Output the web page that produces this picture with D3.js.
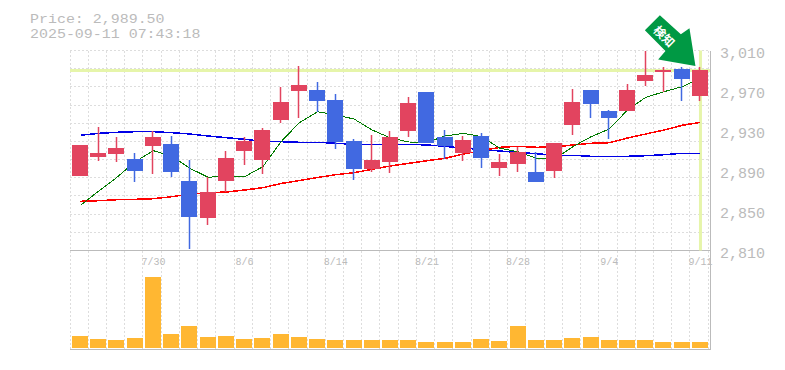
<!DOCTYPE html>
<html>
<head>
<meta charset="utf-8">
<script src="https://cdn.jsdelivr.net/npm/d3@7"></script>
<style>
html, body { margin: 0; padding: 0; background: #fff; }
svg { display: block; }
text { font-family: "Liberation Mono", monospace; fill: #bbb; }
.domain { display: none; }
</style>
</head>
<body>
<div id="chart"></div>
<script>
const dates = ['7/24','7/25','7/28','7/29','7/30','7/31','8/1','8/4','8/5','8/6','8/7','8/8','8/12','8/13','8/14','8/15','8/18','8/19','8/20','8/21','8/22','8/25','8/26','8/27','8/28','8/29','9/1','9/2','9/3','9/4','9/5','9/8','9/9','9/10','9/11']
const dateTicks = ['7/30','8/6','8/14','8/21','8/28','9/4','9/11']
const priceTicks = [3010, 2970, 2930, 2890, 2850, 2810]

const opens = [2884.5,2903.5,2906.5,2901.5,2914.5,2916.5,2879.5,2842.5,2879.5,2909.5,2900.5,2940.5,2969.5,2970.5,2960.5,2919.5,2891.5,2898.5,2929.5,2968.5,2923.5,2907.5,2924.5,2892.5,2896.5,2888.5,2889.5,2935.5,2970.5,2949.5,2949.5,2979.5,2988.5,2991.5,2964.5]
const closes = [2915.5,2907.5,2912.5,2889.5,2923.5,2888.5,2843.5,2868.5,2902.5,2919.5,2930.5,2958.5,2975.5,2959.5,2918.5,2891.5,2900.5,2923.5,2957.5,2917.5,2914.5,2920.5,2902.5,2898.5,2908.5,2878.5,2917.5,2958.5,2956.5,2942.5,2970.5,2985.5,2990.5,2981.5,2990.5]
const highs = [2915.5,2933.5,2923.5,2907.5,2929.5,2924.5,2900.5,2883.5,2909.5,2923.5,2932.5,2973.5,2994.5,2978.5,2966.5,2921.5,2925.5,2929.5,2963.5,2968.5,2930.5,2924.5,2927.5,2906.5,2913.5,2908.5,2917.5,2971.5,2970.5,2950.5,2976.5,3009.5,2993.5,2993.5,2993.5]
const lows = [2884.5,2899.5,2898.5,2878.5,2886.5,2883.5,2811.5,2835.5,2868.5,2895.5,2886.5,2937.5,2942.5,2948.5,2911.5,2880.5,2888.5,2887.5,2923.5,2917.5,2901.5,2899.5,2892.5,2884.5,2888.5,2878.5,2882.5,2925.5,2942.5,2921.5,2949.5,2974.5,2968.5,2959.5,2959.5]

const maShort = [2855.2,2869.5,2883.2,2898.8,2909.8,2904.5,2892.2,2883.2,2884.5,2883.8,2893.8,2918.8,2937.8,2948.8,2945.5,2941.5,2930.5,2922.5,2918.5,2918.2,2924.5,2927.2,2923.8,2912.2,2908.8,2902.2,2901.5,2913.8,2923.8,2931.5,2950.5,2963.2,2968.8,2973.8,2982.2]
const maMid = [2859.2,2859.8,2860.8,2861.2,2861.8,2863.8,2866.5,2867.8,2868.5,2870.5,2872.8,2877,2880,2883,2885.8,2887.8,2891.2,2894.5,2897.2,2899.8,2902.2,2906.5,2909.8,2913.2,2914.2,2913.2,2913.5,2915.5,2917.2,2917.8,2922.5,2926.5,2930.5,2935.2,2938.2]
const maLong = [2925.2,2927.2,2928.2,2928.8,2928.8,2927.8,2926.5,2924.5,2922.8,2921.2,2919.2,2918.8,2918.2,2918.2,2917.2,2916.2,2916.2,2916.2,2916.2,2915.5,2914.2,2912.2,2911.2,2909.5,2908,2906.8,2905.2,2905.2,2904.2,2904.2,2904.2,2904.8,2905.8,2907.2,2907.2]

const volumes = [12,9,8,10,71,14,22,11,12,9,10,14,11,9,8,8,8,8,8,6,6,6,9,7,22,8,8,10,11,8,8,8,6,6,6]

const currentPrice = 2989.5
const infoLines = ['Price: 2,989.50', '2025-09-11 07:43:18']
const signalLabel = '検知'

const chartWidth = 785
const chartHeight = 370
const leftX = 70
const rightX = 710
const topY = 50.5
const priceBottomY = 250.5
const volumeBottomY = 348

const COLOR_UP = '#e2445f'
const COLOR_DOWN = '#4169e1'
const COLOR_VOLUME = '#ffb732'
const COLOR_AXIS = '#bbb'
const COLOR_GRID = '#ddd'
const COLOR_NOW = '#e6f5aa'

const svg = d3.select('#chart').append('svg')
    .attr('width', chartWidth)
    .attr('height', chartHeight)

const step = 638.2 / dates.length
const padding = 1 - 16 / step
const scaleDate = d3.scaleBand()
    .domain(dates)
    .range([71.38, 709.58])
    .paddingInner(padding)
    .paddingOuter(padding / 2)
const scalePrice = d3.scaleLinear().domain([2810, 3010]).range([priceBottomY, topY])
const scaleVolume = d3.scaleLinear().domain([0, 97.5]).range([volumeBottomY, priceBottomY])

const barX = d => Math.floor(scaleDate(d))
const centerX = d => scaleDate(d) + scaleDate.bandwidth() / 2

// grid
const grid = svg.append('g')
    .attr('stroke', COLOR_GRID)
    .attr('stroke-dasharray', '2,2')
    .attr('shape-rendering', 'crispEdges')
grid.selectAll('.grid-v')
    .data(d3.range(dates.length + 1))
    .join('line')
    .attr('class', 'grid-v')
    .attr('x1', i => Math.floor(leftX + step * i) + .5)
    .attr('x2', i => Math.floor(leftX + step * i) + .5)
    .attr('y1', topY)
    .attr('y2', 349)
grid.selectAll('.grid-h')
    .data(d3.range(11))
    .join('line')
    .attr('class', 'grid-h')
    .attr('x1', leftX)
    .attr('x2', rightX)
    .attr('y1', i => Math.floor(topY + 18.18 * i) + .5)
    .attr('y2', i => Math.floor(topY + 18.18 * i) + .5)

// panel frame
const frame = svg.append('g')
    .attr('stroke', COLOR_AXIS)
    .attr('shape-rendering', 'crispEdges')
frame.append('line').attr('x1', leftX).attr('x2', rightX + 1).attr('y1', 250.5).attr('y2', 250.5)
frame.append('line').attr('x1', leftX).attr('x2', rightX + 1).attr('y1', 349.5).attr('y2', 349.5)
frame.append('line').attr('x1', rightX + .5).attr('x2', rightX + .5).attr('y1', topY).attr('y2', 350)

// current price and current date markers
svg.append('line')
    .attr('x1', leftX)
    .attr('x2', rightX)
    .attr('y1', scalePrice(currentPrice) - .5)
    .attr('y2', scalePrice(currentPrice) - .5)
    .attr('stroke', COLOR_NOW)
    .attr('stroke-width', 3)
svg.append('line')
    .attr('x1', centerX(dates[dates.length - 1]))
    .attr('x2', centerX(dates[dates.length - 1]))
    .attr('y1', topY)
    .attr('y2', priceBottomY)
    .attr('stroke', COLOR_NOW)
    .attr('stroke-width', 3)

// moving averages
const lineFn = d3.line()
    .x((d, i) => centerX(dates[i]))
    .y(d => scalePrice(d))
const maLines = svg.append('g')
    .attr('fill', 'none')
    .attr('shape-rendering', 'crispEdges')
maLines.append('path').attr('d', lineFn(maLong)).attr('stroke', '#0000e6').attr('stroke-width', 1.5)
maLines.append('path').attr('d', lineFn(maMid)).attr('stroke', '#f00').attr('stroke-width', 1.5)
maLines.append('path').attr('d', lineFn(maShort)).attr('stroke', '#007a00').attr('stroke-width', 1)

// candles
const candles = svg.append('g').selectAll('g')
    .data(dates)
    .join('g')
const candleColor = (d, i) => closes[i] >= opens[i] ? COLOR_UP : COLOR_DOWN
candles.append('line')
    .attr('x1', d => Math.round(centerX(d)) - .5)
    .attr('x2', d => Math.round(centerX(d)) - .5)
    .attr('y1', (d, i) => scalePrice(highs[i]))
    .attr('y2', (d, i) => scalePrice(lows[i]))
    .attr('stroke', candleColor)
    .attr('stroke-width', 1.5)
candles.append('rect')
    .attr('x', barX)
    .attr('width', scaleDate.bandwidth())
    .attr('y', (d, i) => scalePrice(Math.max(opens[i], closes[i])))
    .attr('height', (d, i) => Math.abs(closes[i] - opens[i]))
    .attr('fill', candleColor)
    .attr('shape-rendering', 'crispEdges')

// volume
svg.append('g').selectAll('rect')
    .data(dates)
    .join('rect')
    .attr('x', barX)
    .attr('width', scaleDate.bandwidth())
    .attr('y', (d, i) => scaleVolume(volumes[i]))
    .attr('height', (d, i) => volumeBottomY - scaleVolume(volumes[i]))
    .attr('fill', COLOR_VOLUME)
    .attr('shape-rendering', 'crispEdges')

// axes
const axisPrice = d3.axisRight(scalePrice)
    .tickValues(priceTicks)
    .tickFormat(d3.format(','))
    .tickSize(0)
    .tickPadding(0)
const axisPriceG = svg.append('g')
    .attr('transform', `translate(720, 2.5)`)
    .call(axisPrice)
axisPriceG.selectAll('text').attr('font-size', 15).style('font-family', '"Liberation Mono", monospace').style('fill', COLOR_AXIS)

const axisDate = d3.axisBottom(scaleDate)
    .tickValues(dateTicks)
    .tickSize(0)
    .tickPadding(7)
const axisDateG = svg.append('g')
    .attr('transform', `translate(0, ${priceBottomY})`)
    .call(axisDate)
axisDateG.selectAll('text').attr('font-size', 10).style('font-family', '"Liberation Mono", monospace').style('fill', COLOR_AXIS)

// info text, stretched sideways so the two rows stay clear of each other
svg.selectAll('.info')
    .data(infoLines)
    .join('text')
    .attr('class', 'info')
    .attr('x', 30)
    .attr('y', (d, i) => 22.5 + i * 15)
    .attr('font-size', 13.2)
    .attr('textLength', d => d.length * 8.97)
    .attr('lengthAdjust', 'spacingAndGlyphs')
    .text(d => d)

// signal arrow, tip sits just above the last candle
const tipX = centerX(dates[dates.length - 1]) - 5
const tipY = scalePrice(closes[closes.length - 1]) - 4
const arrowShape = [[-50.6, -35.7], [-35.6, -50.7], [-14.6, -31.7], [-6, -37.7], [0, 0], [-37.3, -6.4], [-30, -15]]
const arrow = svg.append('g').attr('transform', `translate(${tipX}, ${tipY})`)
arrow.append('polygon')
    .attr('points', arrowShape.join(' '))
    .attr('fill', '#009944')
arrow.append('text')
    .attr('transform', 'translate(-30.5, -30.5) rotate(45)')
    .attr('text-anchor', 'middle')
    .attr('dominant-baseline', 'central')
    .attr('font-size', 12)
    .attr('font-weight', 700)
    .style('font-family', '"Noto Sans CJK JP", sans-serif')
    .style('fill', '#fff')
    .text(signalLabel)
</script>
</body>
</html>
